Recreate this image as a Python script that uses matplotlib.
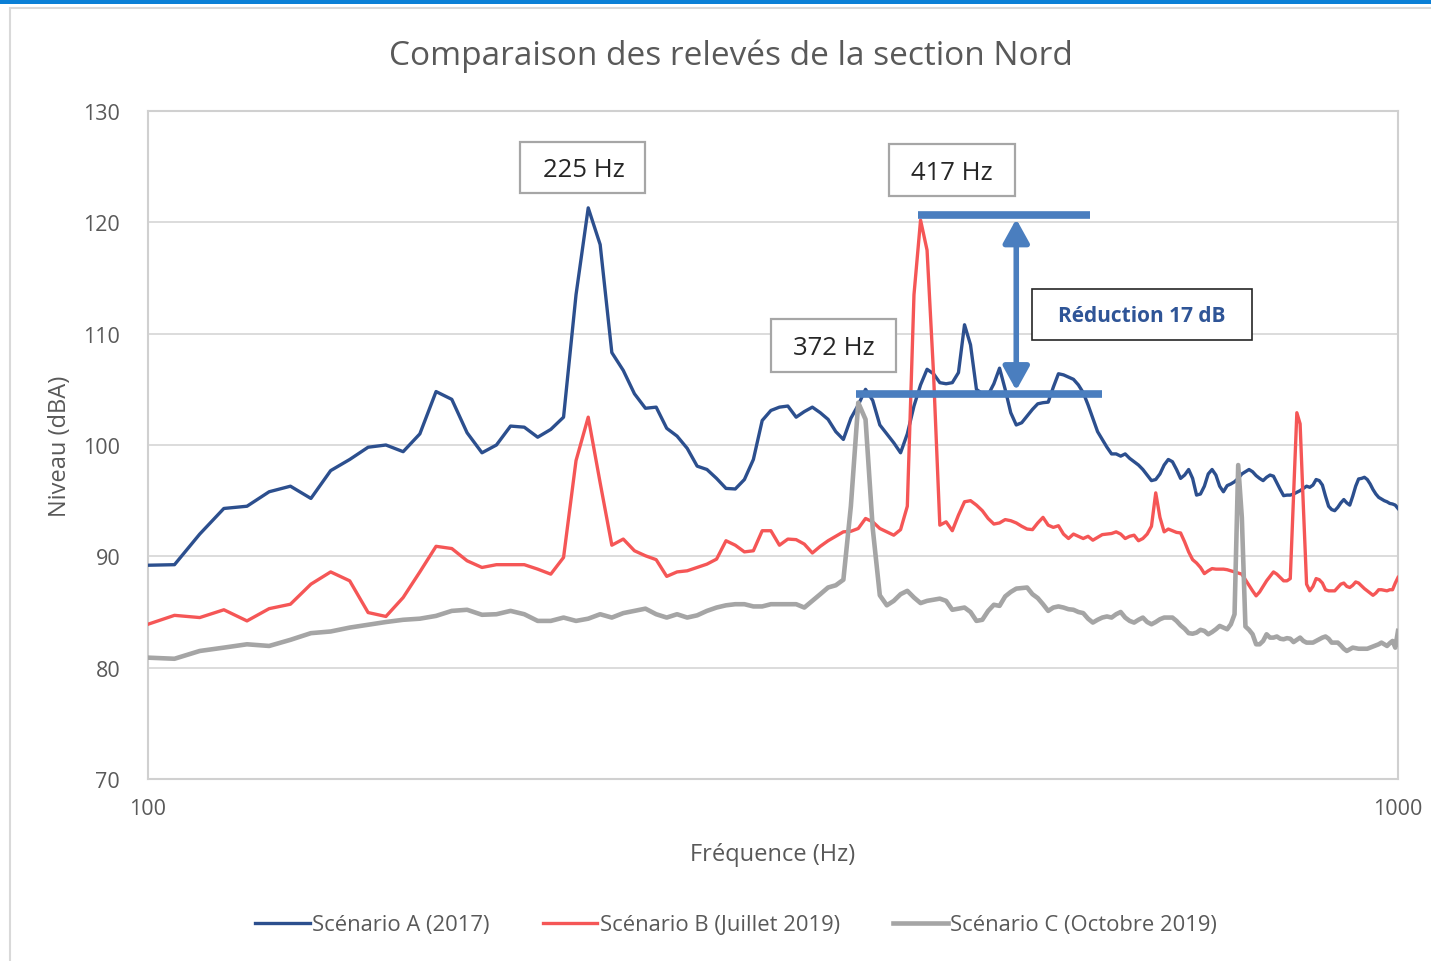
import numpy as np
import matplotlib
matplotlib.use("Agg")
import matplotlib.pyplot as plt
from matplotlib.patches import Rectangle, FancyArrowPatch

plt.rcParams['font.family'] = ['Open Sans', 'DejaVu Sans']

# Frequencies (Hz), one measurement every 5 Hz from 100 to 1000
freq = np.arange(100, 1001, 5)

scenario_a = [
    89.2, 89.25, 92.0, 94.3, 94.5, 95.8, 96.3, 95.2, 97.7, 98.7,
    99.8, 100.0, 99.4, 101.0, 104.8, 104.1, 101.1, 99.3, 100.0, 101.7,
    101.6, 100.7, 101.4, 102.5, 113.5, 121.3, 118.0, 108.3, 106.7, 104.6,
    103.3, 103.4, 101.5, 100.8, 99.7, 98.1, 97.8, 97.0, 96.1, 96.05,
    96.9, 98.7, 102.2, 103.1, 103.4, 103.5, 102.5, 103.0, 103.4, 102.9,
    102.3, 101.2, 100.5, 102.4, 103.6, 105.0, 104.0, 101.8, 101.0, 100.2,
    99.3, 101.0, 103.5, 105.4, 106.8, 106.4, 105.6, 105.5, 105.6, 106.5,
    110.8, 109.0, 105.0, 104.6, 104.5, 105.5, 106.9, 105.0, 102.9, 101.8,
    102.0, 102.6, 103.2, 103.7, 103.8, 103.85, 105.2, 106.4, 106.3, 106.1,
    105.9, 105.4, 104.7, 103.6, 102.4, 101.2, 100.5, 99.8, 99.2, 99.2,
    99.0, 99.2, 98.8, 98.5, 98.2, 97.8, 97.3, 96.8, 96.9, 97.4,
    98.2, 98.7, 98.5, 97.8, 97.0, 97.3, 97.8, 97.0, 95.5, 95.6,
    96.3, 97.4, 97.8, 97.3, 96.3, 95.8, 96.35, 96.5, 96.7, 97.0,
    97.4, 97.6, 97.8, 97.6, 97.25, 97.0, 96.8, 97.1, 97.3, 97.2,
    96.6, 96.0, 95.45, 95.5, 95.5, 95.6, 95.75, 95.9, 96.1, 96.3,
    96.2, 96.4, 96.9, 96.8, 96.4, 95.4, 94.5, 94.2, 94.1, 94.4,
    94.8, 95.1, 94.8, 94.6, 95.4, 96.3, 96.95, 97.0, 97.1, 96.9,
    96.5, 96.0, 95.6, 95.3, 95.15, 95.0, 94.9, 94.75, 94.7, 94.6,
    94.3,
]

scenario_b = [
    83.9, 84.7, 84.5, 85.2, 84.2, 85.3, 85.7, 87.5, 88.6, 87.8,
    84.95, 84.6, 86.3, 88.6, 90.9, 90.7, 89.6, 89.0, 89.25, 89.25,
    89.25, 88.85, 88.4, 89.9, 98.6, 102.5, 96.6, 91.0, 91.55, 90.5,
    90.05, 89.7, 88.2, 88.6, 88.7, 89.0, 89.3, 89.75, 91.4, 91.0,
    90.4, 90.5, 92.3, 92.3, 91.0, 91.55, 91.5, 91.1, 90.3, 90.9,
    91.4, 91.8, 92.2, 92.25, 92.5, 93.4, 93.1, 92.5, 92.2, 91.9,
    92.4, 94.5, 113.5, 120.2, 117.5, 106.5, 92.8, 93.1, 92.3, 93.7,
    94.9, 95.0, 94.6, 94.1, 93.4, 92.9, 93.0, 93.3, 93.2, 93.0,
    92.7, 92.45, 92.4, 93.0, 93.5, 92.8, 92.6, 92.75, 92.0, 91.6,
    92.0, 91.8, 91.6, 91.8, 91.45, 91.7, 91.95, 92.0, 92.05, 92.2,
    92.0, 91.6, 91.8, 91.9, 91.4, 91.6, 92.0, 92.7, 95.7, 93.5,
    92.2, 92.45, 92.3, 92.15, 92.1, 91.3, 90.4, 89.7, 89.4, 89.0,
    88.45, 88.7, 88.9, 88.85, 88.85, 88.85, 88.8, 88.7, 88.6, 88.5,
    88.4, 87.9, 87.4, 86.9, 86.45, 86.8, 87.3, 87.8, 88.2, 88.6,
    88.4, 88.1, 87.8, 87.8, 88.0, 95.5, 102.9, 101.9, 94.5, 87.5,
    86.9, 87.3, 88.0, 87.9, 87.6, 87.0, 86.9, 86.9, 86.9, 87.2,
    87.5, 87.6, 87.3, 87.2, 87.4, 87.7, 87.6, 87.35, 87.1, 86.9,
    86.7, 86.5, 86.7, 87.0, 87.0, 86.95, 86.9, 87.0, 87.0, 87.6,
    88.1,
]

scenario_c = [
    80.9, 80.8, 81.5, 81.8, 82.1, 81.95, 82.5, 83.1, 83.25, 83.6,
    83.85, 84.1, 84.3, 84.4, 84.65, 85.1, 85.2, 84.75, 84.8, 85.1,
    84.8, 84.2, 84.2, 84.5, 84.2, 84.4, 84.8, 84.5, 84.9, 85.1,
    85.3, 84.8, 84.5, 84.8, 84.5, 84.7, 85.1, 85.4, 85.6, 85.7,
    85.7, 85.5, 85.5, 85.7, 85.7, 85.7, 85.7, 85.4, 86.0, 86.6,
    87.2, 87.4, 87.9, 94.5, 103.8, 102.3, 92.5, 86.5, 85.6, 86.0,
    86.6, 86.9, 86.3, 85.8, 86.0, 86.1, 86.2, 86.0, 85.2, 85.3,
    85.4, 85.0, 84.2, 84.3, 85.1, 85.65, 85.55, 86.4, 86.8, 87.1,
    87.15, 87.2, 86.6, 86.25, 85.7, 85.1, 85.4, 85.5, 85.4, 85.25,
    85.2, 85.0, 84.9, 84.4, 84.05, 84.3, 84.5, 84.6, 84.5, 84.8,
    85.0, 84.5, 84.2, 84.05, 84.3, 84.5, 84.1, 83.9, 84.1, 84.35,
    84.5, 84.5, 84.5, 84.2, 83.8, 83.5, 83.1, 83.05, 83.15, 83.4,
    83.3, 83.0, 83.2, 83.45, 83.75, 83.6, 83.45, 83.9, 84.8, 98.2,
    93.5, 83.7, 83.4, 83.0, 82.1, 82.1, 82.4, 83.0, 82.7, 82.7,
    82.8, 82.6, 82.55, 82.65, 82.6, 82.3, 82.5, 82.7, 82.4, 82.25,
    82.25, 82.25, 82.4, 82.55, 82.7, 82.8, 82.6, 82.25, 82.25, 82.25,
    82.0, 81.7, 81.5, 81.65, 81.8, 81.75, 81.7, 81.7, 81.7, 81.7,
    81.8, 81.9, 82.0, 82.1, 82.25, 82.1, 81.95, 82.2, 82.4, 81.8,
    83.3,
]

series_labels = ["Scénario A (2017)", "Scénario B (Juillet 2019)", "Scénario C (Octobre 2019)"]
series_colors = ["#2c4f8e", "#f55656", "#a5a5a5"]
series_widths = [2.4, 2.4, 3.3]

peak_labels = ["225 Hz", "417 Hz", "372 Hz"]
reduction_label = "Réduction 17 dB"
y_ticks = [70, 80, 90, 100, 110, 120, 130]
x_ticks = [100, 1000]

W, H = 1431, 962
fig = plt.figure(figsize=(W / 100, H / 100), dpi=100)
fig.patch.set_facecolor("white")

# window decoration: blue top strip + light frame
fig.add_artist(Rectangle((0, 1 - 5 / H), 1, 5 / H, transform=fig.transFigure,
                         facecolor="#0a7fd6", edgecolor="none"))
fig.add_artist(Rectangle((10 / W, -0.01), 1.0, 1 - 9 / H + 0.01, transform=fig.transFigure,
                         facecolor="none", edgecolor="#d9d9d9", linewidth=1.5))

ax = fig.add_axes([148 / W, 1 - 780 / H, (1398 - 148) / W, (780 - 112) / H])
ax.set_xscale("log")
ax.set_xlim(100, 1000)
ax.set_ylim(70, 130)

data = [scenario_a, scenario_b, scenario_c]
for vals, lab, col, lw in zip(data, series_labels, series_colors, series_widths):
    ax.plot(freq, vals, color=col, linewidth=lw, label=lab, solid_joinstyle="round", zorder=3)

ax.set_yticks(y_ticks)
ax.set_xticks(x_ticks)
ax.set_xticklabels([str(v) for v in x_ticks])
ax.xaxis.set_minor_locator(matplotlib.ticker.NullLocator())
ax.tick_params(axis="both", length=0, labelsize=15.5, labelcolor="#595959")
ax.tick_params(axis="x", pad=14)
ax.tick_params(axis="y", pad=20)
ax.grid(axis="y", color="#d9d9d9", linewidth=1.3, zorder=0)
ax.set_axisbelow(True)
for s in ax.spines.values():
    s.set_color("#d0d0d0")
    s.set_linewidth(1.5)

ax.set_xlabel("Fréquence (Hz)", fontsize=17, color="#595959", labelpad=16)
ax.set_ylabel("Niveau (dBA)", fontsize=17, color="#595959", labelpad=8)
fig.text(731 / W, 1 - 56 / H, "Comparaison des relevés de la section Nord",
         ha="center", va="center", fontsize=24, color="#595959")

# annotation boxes
def label_box(x0, x1, y0, y1, text, tx, ty, edge="#a6a6a6", color="#262626",
              weight="normal", size=18.5, lw=1.6):
    ax.add_patch(Rectangle((x0, y0), x1 - x0, y1 - y0, facecolor="white",
                           edgecolor=edge, linewidth=lw, zorder=5))
    ax.text(tx, ty, text, ha="center", va="center", fontsize=size, color=color,
            fontweight=weight, zorder=6)

label_box(198.5, 249.8, 122.6, 127.2, peak_labels[0], 223.0, 124.75)
label_box(391.5, 494.0, 122.4, 127.0, peak_labels[1], 439.5, 124.5)
label_box(315.0, 396.8, 106.6, 111.3, peak_labels[2], 353.5, 108.8)
label_box(509.6, 764.0, 109.4, 114.0, reduction_label, 624.0, 111.6,
          edge="#262626", color="#2f5597", weight="bold", size=15, lw=1.2)

# reduction markers
bar_col = "#4a7ebf"
ax.plot([413, 567], [120.65, 120.65], color=bar_col, linewidth=5.5, solid_capstyle="butt", zorder=7)
ax.plot([368.5, 580], [104.55, 104.55], color=bar_col, linewidth=5.5, solid_capstyle="butt", zorder=7)
arrow = FancyArrowPatch((495, 104.9), (495, 120.3), arrowstyle="<|-|>,head_length=6.5,head_width=3.6",
                        mutation_scale=2.2, color=bar_col, linewidth=4, zorder=7, shrinkA=0, shrinkB=0)
ax.add_patch(arrow)

leg = fig.legend(loc="center", bbox_to_anchor=(736 / W, 1 - 926 / H), ncol=3, frameon=False,
                 fontsize=15.8, handlelength=2.5, handletextpad=0.12, columnspacing=2.4)
for t in leg.get_texts():
    t.set_color("#595959")

fig.savefig("out.png", dpi=100, facecolor="white")
